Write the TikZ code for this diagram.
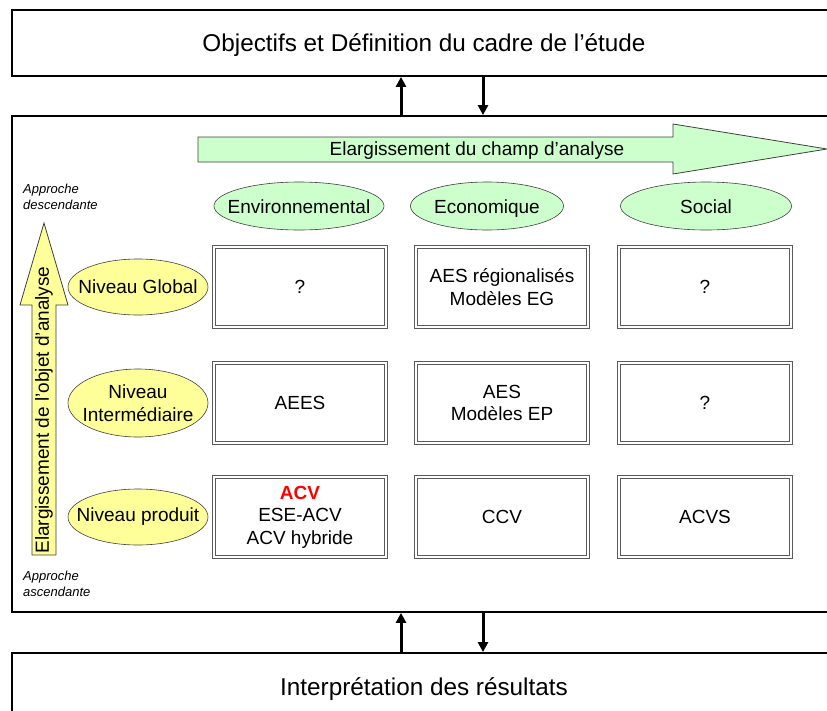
\documentclass[tikz,border=0pt]{standalone}
\usepackage{fontspec}
\setmainfont{Liberation Sans}
\usetikzlibrary{arrows.meta,positioning,shapes.geometric}
\definecolor{champGreen}{HTML}{CCFFCC}
\definecolor{objetYellow}{HTML}{FFFF99}
\definecolor{cellGrey}{HTML}{5A5A5A}

\begin{document}
\begin{tikzpicture}[
  x=1pt, y=-1pt, font=\fontsize{19}{22.5}\selectfont,
  frame/.style={draw=black, line width=1.8pt, minimum width=824pt, inner sep=0pt},
  cell/.style={draw=cellGrey, double=white, double distance=2pt, line width=0.7pt,
              minimum width=172pt, minimum height=80pt, align=center, inner sep=0pt},
  dim/.style={ellipse, draw=black!75, fill=champGreen, line width=0.6pt,
              minimum height=48pt, inner xsep=-20pt, inner ysep=0pt,
              text height=17pt, text depth=2pt},
  lvl/.style={ellipse, draw=black!75, fill=objetYellow, line width=0.6pt, align=center,
              minimum width=140pt, minimum height=56pt, inner xsep=-20pt, inner ysep=0pt},
  conn/.style={line width=3pt, -{Triangle[length=10pt,width=10pt]}},
  band/.style={draw=black!75, line width=0.8pt},
  note/.style={font=\fontsize{13}{15.5}\selectfont\itshape, align=left, anchor=north west, inner sep=0pt}
]
\useasboundingbox (0,0) rectangle (827,710);
\clip (0,0) rectangle (827,710);

% ---- outer frames
\node[frame, minimum height=66pt, font=\fontsize{24.3}{28}\selectfont,
      text height=18pt, text depth=1pt] (objectifs) at (424,43)
  {Objectifs et Définition du cadre de l'étude};
\node[frame, minimum height=496pt] (cadre) at (424,364) {};
\node[frame, minimum height=67pt, font=\fontsize{24.3}{28}\selectfont,
      text height=18pt, text depth=1pt] (interp) at (424,686.5)
  {Interprétation des résultats};

\coordinate (up)   at (401,0);
\coordinate (down) at (483,0);
\draw[conn] (cadre.north -| up) -- (objectifs.south -| up);
\draw[conn] (objectifs.south -| down) -- (cadre.north -| down);
\draw[conn] (interp.north -| up) -- (cadre.south -| up);
\draw[conn] (cadre.south -| down) -- (interp.north -| down);

% ---- horizontal arrow (champ)
\draw[band, fill=champGreen] (198,137) -- (673,137) -- (673,124) -- (827,149)
  -- (673,174) -- (673,162) -- (198,162) -- cycle;
\node (champ) at (477,151) {Elargissement du champ d'analyse};

% ---- vertical arrow (objet)
\draw[band, fill=objetYellow] (32,555) -- (32,305) -- (20,305) -- (44,223)
  -- (68,305) -- (56,305) -- (56,555) -- cycle;
\node[rotate=90] (objet) at (44,410) {Elargissement de l'objet d'analyse};

\node[note] (desc) at (23,184) {Approche\\descendante};
\node[note] (asc)  at (23,571) {Approche\\ascendante};

% ---- dimensions
\node[dim, minimum width=170pt] (env) at (299,206) {Environnemental};
\node[dim, minimum width=153pt] (eco) at (487,206) {Economique};
\node[dim, minimum width=171pt] (soc) at (706,206) {Social};

% ---- levels
\node[lvl] (glob) at (138,287) {Niveau Global};
\node[lvl, minimum height=68pt] (inter) at (138,403) {Niveau\\Intermédiaire};
\node[lvl] (prod) at (138,517) {Niveau produit};

% ---- cells
\node[cell] (globEnv) at (300,287) {?};
\node[cell] (globEco) at (502,287) {AES régionalisés\\Modèles EG};
\node[cell] (globSoc) at (705,287) {?};

\node[cell] (interEnv) at (300,403) {AEES};
\node[cell] (interEco) at (502,403) {AES\\Modèles EP};
\node[cell] (interSoc) at (705,403) {?};

\node[cell] (prodEnv) at (300,517) {{\color{red}\bfseries ACV}\\ESE-ACV\\ACV hybride};
\node[cell] (prodEco) at (502,517) {CCV};
\node[cell] (prodSoc) at (705,517) {ACVS};
\end{tikzpicture}
\end{document}
